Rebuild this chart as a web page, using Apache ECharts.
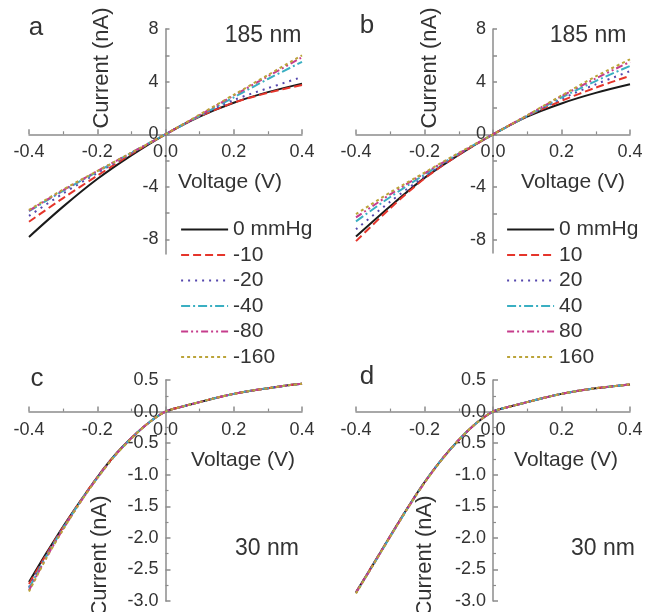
<!DOCTYPE html>
<html>
<head>
<meta charset="utf-8">
<script src="https://cdn.jsdelivr.net/npm/echarts@6/dist/echarts.min.js"></script>
<style>
html,body{margin:0;padding:0;background:#fff;}
#main{width:646px;height:612px;}
</style>
</head>
<body>
<div id="main"></div>
<script>
// 电压 (V)
var voltAB = [-0.4, -0.3, -0.2, -0.1, 0, 0.1, 0.2, 0.3, 0.4];
var voltCD = [-0.4, -0.35, -0.3, -0.25, -0.2, -0.15, -0.1, -0.05, 0, 0.05, 0.1, 0.15, 0.2, 0.25, 0.3, 0.35, 0.4];

// a 185 nm, 负压
var a0   = [-7.8, -5.5, -3.4, -1.6, 0, 1.35, 2.4, 3.2, 3.85];
var a10  = [-6.65, -4.85, -3.15, -1.5, 0, 1.35, 2.4, 3.15, 3.75];
var a20  = [-6.2, -4.5, -2.95, -1.45, 0, 1.4, 2.6, 3.5, 4.35];
var a40  = [-5.85, -4.3, -2.85, -1.4, 0, 1.4, 2.8, 4.2, 5.5];
var a80  = [-5.8, -4.25, -2.8, -1.4, 0, 1.45, 2.95, 4.4, 5.85];
var a160 = [-5.75, -4.2, -2.8, -1.4, 0, 1.5, 3.0, 4.5, 6.0];

// b 185 nm, 正压
var b0   = [-7.75, -5.45, -3.3, -1.55, 0, 1.35, 2.35, 3.15, 3.8];
var b10  = [-8.1, -5.6, -3.35, -1.55, 0, 1.4, 2.55, 3.55, 4.45];
var b20  = [-7.2, -5.1, -3.2, -1.5, 0, 1.4, 2.7, 3.8, 4.8];
var b40  = [-6.6, -4.75, -3.05, -1.45, 0, 1.4, 2.8, 4.05, 5.2];
var b80  = [-6.3, -4.55, -2.95, -1.45, 0, 1.45, 2.9, 4.25, 5.5];
var b160 = [-6.05, -4.4, -2.9, -1.4, 0, 1.45, 2.95, 4.4, 5.7];

// c 30 nm, 负压
var c0   = [-2.70, -2.25, -1.82, -1.42, -1.04, -0.70, -0.42, -0.18, 0, 0.08, 0.15, 0.22, 0.28, 0.33, 0.37, 0.41, 0.44];
var c10  = [-2.73, -2.27, -1.83, -1.42, -1.04, -0.70, -0.42, -0.18, 0, 0.08, 0.15, 0.22, 0.28, 0.33, 0.37, 0.41, 0.44];
var c20  = [-2.78, -2.29, -1.84, -1.43, -1.05, -0.70, -0.42, -0.18, 0, 0.08, 0.15, 0.22, 0.28, 0.33, 0.37, 0.41, 0.44];
var c40  = [-2.80, -2.30, -1.85, -1.43, -1.05, -0.71, -0.42, -0.18, 0, 0.08, 0.15, 0.22, 0.28, 0.33, 0.37, 0.41, 0.44];
var c80  = [-2.83, -2.32, -1.86, -1.44, -1.05, -0.71, -0.42, -0.18, 0, 0.08, 0.15, 0.22, 0.28, 0.33, 0.37, 0.41, 0.44];
var c160 = [-2.85, -2.33, -1.87, -1.44, -1.06, -0.71, -0.43, -0.18, 0, 0.08, 0.15, 0.22, 0.28, 0.33, 0.37, 0.41, 0.44];

// d 30 nm, 正压
var d0   = [-2.86, -2.42, -1.97, -1.53, -1.12, -0.76, -0.45, -0.19, 0, 0.08, 0.15, 0.22, 0.28, 0.33, 0.37, 0.40, 0.43];
var d10  = [-2.86, -2.42, -1.97, -1.53, -1.12, -0.76, -0.45, -0.19, 0, 0.08, 0.15, 0.22, 0.28, 0.33, 0.37, 0.40, 0.43];
var d20  = [-2.87, -2.42, -1.97, -1.53, -1.12, -0.76, -0.45, -0.19, 0, 0.08, 0.15, 0.22, 0.28, 0.33, 0.37, 0.40, 0.43];
var d40  = [-2.87, -2.43, -1.98, -1.54, -1.12, -0.76, -0.45, -0.19, 0, 0.08, 0.15, 0.22, 0.28, 0.33, 0.37, 0.40, 0.43];
var d80  = [-2.87, -2.43, -1.98, -1.54, -1.13, -0.76, -0.45, -0.19, 0, 0.08, 0.15, 0.22, 0.28, 0.33, 0.37, 0.40, 0.43];
var d160 = [-2.88, -2.43, -1.98, -1.54, -1.13, -0.77, -0.45, -0.19, 0, 0.08, 0.15, 0.22, 0.28, 0.33, 0.37, 0.40, 0.43];

var namesNeg = ['0 mmHg', '-10', '-20', '-40', '-80', '-160'];
var namesPos = ['0 mmHg', '10', '20', '40', '80', '160'];
var yTicksAB = [-8, -4, 0, 4, 8];
var yMinorAB = [-8, -6, -4, -2, 0, 2, 4, 6, 8];

var lineColors = ['#1a1a1a', '#e5352b', '#5547ad', '#3aafc2', '#c63c8c', '#bba43a'];
var lineDash = ['solid', [8, 4], [2, 5], [9, 3, 2, 3], [7, 3, 2, 3, 2, 3], [3, 3]];

var FONT = 'Liberation Sans, Arial, sans-serif';
var TXT = '#333';
var AX = '#8c8c8c';

// 四个网格
var grids = [
  {left: 29, top: 29, width: 273, height: 225},
  {left: 356, top: 29, width: 274, height: 224},
  {left: 29, top: 380, width: 273, height: 221},
  {left: 356, top: 380, width: 274, height: 221}
];
var yRange = [[-9.1, 8], [-9.0, 8], [-3, 0.5], [-3, 0.5]];

function pairs(xs, ys){
  var out = [];
  for (var i = 0; i < xs.length; i++) out.push([xs[i], ys[i]]);
  return out;
}

function makeSeries(names, sets, xs, idx){
  var list = [];
  for (var i = 0; i < sets.length; i++){
    list.push({
      name: names[i],
      type: 'line',
      xAxisIndex: idx,
      yAxisIndex: idx,
      symbol: 'none',
      smooth: 0.3,
      z: 2 + i,
      lineStyle: {color: lineColors[i], width: 2, type: lineDash[i]},
      itemStyle: {color: lineColors[i]},
      data: pairs(xs, sets[i])
    });
  }
  return list;
}

// 轴线移到 0 处（用 offset）
function xAxisFor(idx){
  var r = yRange[idx];
  return {
    gridIndex: idx, type: 'value', min: -0.4, max: 0.4, interval: 0.2,
    position: 'bottom',
    offset: -grids[idx].height * (0 - r[0]) / (r[1] - r[0]),
    axisLine: {onZero: false, lineStyle: {color: AX, width: 1.5}},
    axisTick: {inside: true, length: 5, lineStyle: {color: AX, width: 1.5}},
    minorTick: {show: true, splitNumber: 2, length: 3, lineStyle: {color: AX, width: 1.2}},
    splitLine: {show: false},
    axisLabel: {color: TXT, fontSize: 18, fontFamily: FONT, margin: 9,
      formatter: function(v){ return v.toFixed(1); }}
  };
}

function yAxisFor(idx){
  var r = yRange[idx];
  var ax = {
    gridIndex: idx, type: 'value', min: r[0], max: r[1],
    position: 'left',
    offset: -grids[idx].width * 0.5,
    axisLine: {onZero: false, lineStyle: {color: AX, width: 1.5}},
    splitLine: {show: false}
  };
  if (idx < 2){
    ax.axisTick = {inside: true, length: 4, customValues: yMinorAB, lineStyle: {color: AX, width: 1.5}};
    ax.axisLabel = {color: TXT, fontSize: 18, fontFamily: FONT, margin: 7, customValues: yTicksAB};
  } else {
    ax.interval = 0.5;
    ax.axisTick = {inside: true, length: 5, lineStyle: {color: AX, width: 1.5}};
    ax.minorTick = {show: true, splitNumber: 2, length: 3, lineStyle: {color: AX, width: 1.2}};
    ax.axisLabel = {color: TXT, fontSize: 18, fontFamily: FONT, margin: 7,
      formatter: function(v){ return v.toFixed(1); }};
  }
  return ax;
}

function label(x, y, text, size, rot){
  return {
    type: 'text', x: x, y: y, rotation: rot || 0, z: 20,
    style: {text: text, fill: TXT, font: size + 'px ' + FONT, textAlign: 'center', textVerticalAlign: 'middle'}
  };
}

function legendFor(names, left){
  return {
    data: names, orient: 'vertical', left: left, top: 219, padding: 0,
    itemWidth: 47, itemHeight: 12, itemGap: 4.5,
    itemStyle: {opacity: 0},
    lineStyle: {width: 2.2},
    textStyle: {color: TXT, fontSize: 21, fontFamily: FONT, lineHeight: 21}
  };
}

var myChart = echarts.init(document.getElementById('main'));
var option = {
  animation: false,
  backgroundColor: '#fff',
  grid: grids,
  xAxis: [xAxisFor(0), xAxisFor(1), xAxisFor(2), xAxisFor(3)],
  yAxis: [yAxisFor(0), yAxisFor(1), yAxisFor(2), yAxisFor(3)],
  legend: [legendFor(namesNeg, 180), legendFor(namesPos, 506)],
  graphic: [
    label(36, 28, 'a', 26), label(367, 26, 'b', 26),
    label(37, 379, 'c', 26), label(367, 377, 'd', 26),
    label(263, 36, '185 nm', 23), label(588, 36, '185 nm', 23),
    label(267, 549, '30 nm', 23), label(603, 549, '30 nm', 23),
    label(230, 182, 'Voltage (V)', 21), label(573, 182, 'Voltage (V)', 21),
    label(243, 460, 'Voltage (V)', 21), label(566, 460, 'Voltage (V)', 21),
    label(102, 68, 'Current (nA)', 22, Math.PI / 2),
    label(430, 68, 'Current (nA)', 22, Math.PI / 2),
    label(100, 556, 'Current (nA)', 22, Math.PI / 2),
    label(425, 556, 'Current (nA)', 22, Math.PI / 2)
  ],
  series: [].concat(
    makeSeries(namesNeg, [a0, a10, a20, a40, a80, a160], voltAB, 0),
    makeSeries(namesPos, [b0, b10, b20, b40, b80, b160], voltAB, 1),
    makeSeries(namesNeg, [c0, c10, c20, c40, c80, c160], voltCD, 2),
    makeSeries(namesPos, [d0, d10, d20, d40, d80, d160], voltCD, 3)
  )
};
myChart.setOption(option);
</script>
</body>
</html>
